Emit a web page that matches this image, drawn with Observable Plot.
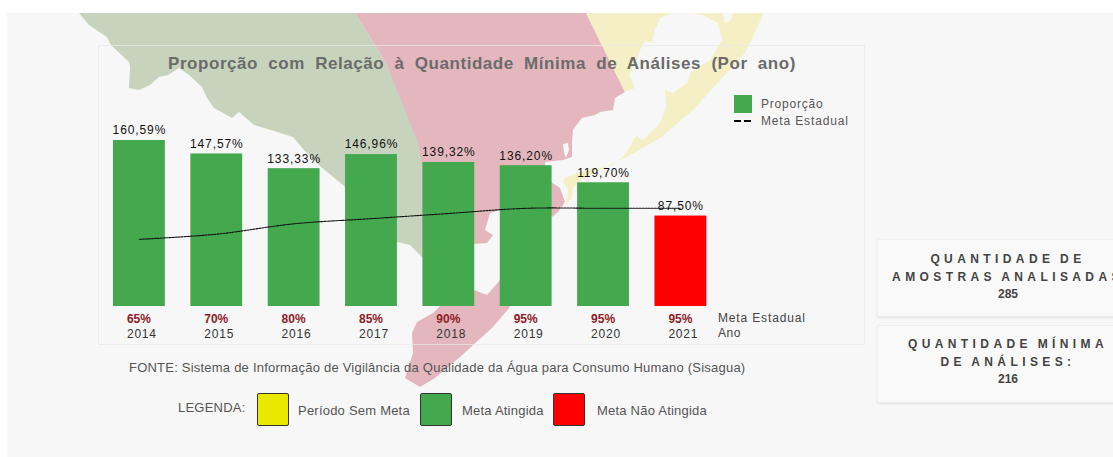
<!DOCTYPE html>
<html lang="pt">
<head>
<meta charset="utf-8">
<script src="https://cdn.jsdelivr.net/npm/d3@7"></script>
<script src="https://cdn.jsdelivr.net/npm/@observablehq/plot@0.6"></script>
<style>
html,body{margin:0;padding:0;background:#fff;width:1113px;height:457px;overflow:hidden;font-family:"Liberation Sans",Arial,sans-serif}
#stage{position:absolute;left:7px;top:13px;width:1106px;height:444px;background:#f7f7f7}
#map,#chart svg{position:absolute;left:0;top:0}
.abs{position:absolute;white-space:nowrap}
#panel{position:absolute;left:98px;top:45px;width:765px;height:298px;border:1px solid rgba(232,232,232,.75);box-sizing:content-box}
.swatch{position:absolute;width:30px;height:31px;border:1.5px solid #333;border-radius:2px}
.leg{font-size:13px;color:#555;letter-spacing:.22px}
.card{position:absolute;left:877px;width:260px;background:#f9f9f9;border:1px solid #eee;border-radius:2px;box-shadow:0 1px 2px rgba(0,0,0,.08)}
.cardtext{position:absolute;left:877px;width:262px;text-align:center;font-weight:bold;font-size:12px;color:#444;letter-spacing:4.4px;word-spacing:-2px;white-space:nowrap;line-height:14px}
.cardnum{letter-spacing:0;word-spacing:0}
.vals text{letter-spacing:.9px}
.yearsrow text{letter-spacing:.8px}
</style>
</head>
<body>
<div id="stage"></div>
<svg id="map" width="1113" height="457"></svg>
<div id="panel"></div>
<div id="chart"></div>
<div class="abs" id="title" style="left:98px;width:768px;top:54px;text-align:center;font-size:17px;font-weight:bold;color:#6b6b6b;letter-spacing:.55px;word-spacing:5px">Proporção com Relação à Quantidade Mínima de Análises (Por ano)</div>
<div class="abs" style="left:734px;top:95px;width:18px;height:18px;background:#43a84e"></div>
<div class="abs" style="left:761px;top:97px;font-size:12px;color:#555;letter-spacing:.8px">Proporção</div>
<div class="abs" style="left:734px;top:120px;width:7px;height:2px;background:#000"></div>
<div class="abs" style="left:744px;top:120px;width:7px;height:2px;background:#000"></div>
<div class="abs" style="left:761px;top:114px;font-size:12px;color:#555;letter-spacing:.85px">Meta Estadual</div>
<div class="abs" style="left:718px;top:311px;font-size:12px;color:#444;letter-spacing:.85px">Meta Estadual</div>
<div class="abs" style="left:718px;top:326px;font-size:12px;color:#444;letter-spacing:.5px">Ano</div>
<div class="abs leg" style="left:129px;top:360px">FONTE: Sistema de Informação de Vigilância da Qualidade da Água para Consumo Humano (Sisagua)</div>
<div class="abs leg" style="left:178px;top:400px">LEGENDA:</div>
<div class="swatch" style="left:257px;top:393px;background:#e9e900"></div>
<div class="abs leg" style="left:298px;top:403px">Período Sem Meta</div>
<div class="swatch" style="left:420px;top:393px;background:#43a84e"></div>
<div class="abs leg" style="left:462px;top:403px">Meta Atingida</div>
<div class="swatch" style="left:553px;top:393px;background:#ff0000"></div>
<div class="abs leg" style="left:597px;top:403px">Meta Não Atingida</div>
<div class="card" style="top:239px;height:76px"></div>
<div class="card" style="top:325px;height:76px"></div>
<div class="cardtext" style="top:252px">QUANTIDADE DE</div>
<div class="cardtext" style="top:270px">AMOSTRAS ANALISADAS</div>
<div class="cardtext cardnum" style="top:287px">285</div>
<div class="cardtext" style="top:337px">QUANTIDADE MÍNIMA</div>
<div class="cardtext" style="top:355px">DE ANÁLISES:</div>
<div class="cardtext cardnum" style="top:372px">216</div>
<script>
const years = ["2014","2015","2016","2017","2018","2019","2020","2021"];
const proportion = [160.59,147.57,133.33,146.96,139.32,136.20,119.70,87.50];
const goal = [65,70,80,85,90,95,95,95];
const GREEN = "#43a84e", RED = "#ff0000";
const brl = v => v.toFixed(2).replace(".", ",") + "%";
const rows = years.map((year,i)=>({year,value:proportion[i],goal:goal[i]}));

// decorative backdrop: outline of the state's regions
const landGreen = [[79,13],[89,25],[107,37],[111,45],[129,62],[130,67],[129,88],[139,90],[150,85],[159,77],[168,75],[179,68],[189,75],[202,87],[207,98],[214,108],[232,118],[239,112],[254,125],[271,130],[293,137],[304,150],[321,167],[343,185],[397,242],[410,245],[422,257],[450,260],[450,210],[422,147],[386,63],[355,13]];
const landRed = [[355,13],[586,13],[625,92],[615,98],[613,110],[600,112],[595,115],[582,118],[575,127],[573,130],[572,142],[572,157],[563,160],[545,162],[545,182],[551,182],[560,188],[565,202],[558,212],[552,217],[545,210],[500,210],[490,213],[485,230],[493,235],[487,243],[474,244],[465,262],[474,290],[487,295],[500,280],[510,307],[493,327],[460,357],[435,378],[420,387],[405,378],[413,353],[412,333],[417,322],[433,313],[443,303],[430,200],[418,143],[386,63]];
const landYellowW = [[586,13],[672,13],[660,18],[655,30],[652,42],[645,41],[640,50],[637,60],[629,75],[635,88],[625,92]];
const landYellowE = [[692,13],[764,13],[745,53],[720,80],[693,110],[660,138],[627,157],[593,173],[578,182],[573,188],[572,197],[566,205],[568,190],[563,182],[565,178],[577,173],[613,165],[623,157],[630,147],[636,136],[643,140],[660,123],[666,107],[665,90],[673,93],[688,82],[690,73],[710,60],[722,40],[718,23],[703,15]];
const islets = [[[723,13],[733,13],[731,20],[725,23]],[[563,144],[568,143],[569,150],[566,158],[564,153]]];
const map = d3.select("#map");
const path = d3.line();
[[landGreen,"#c7d3bc"],[landRed,"#e3b7bd"],[landYellowW,"#f4efc4"],[landYellowE,"#f4efc4"]].forEach(([p,c])=>
  map.append("path").attr("d",path(p)+"Z").attr("fill",c));
islets.forEach(p=>map.append("path").attr("d",path(p)+"Z").attr("fill","#f7f7f7"));

const plot = Plot.plot({
  width:1113,height:457,marginTop:0,marginRight:0,marginBottom:151,marginLeft:0,
  style:{background:"transparent",fontFamily:"Liberation Sans",fontSize:"12px"},
  x:{type:"band",domain:years,range:[113,706.3],paddingInner:.33,paddingOuter:0,round:false,label:null},
  y:{domain:[0,160.59],range:[306,140],axis:null,label:null},
  marks:[
    Plot.barY(rows,{x:"year",y:"value",fill:d=>d.value>=100?GREEN:RED}),
    Plot.line(rows,{x:"year",y:"goal",curve:"catmull-rom",stroke:"#111",strokeWidth:1.1,strokeDasharray:"2,1"}),
    Plot.text(rows,{x:"year",y:"value",text:d=>brl(d.value),dy:-10,fill:"#111",fontSize:12,className:"vals"}),
    Plot.axisX({anchor:"bottom",tickSize:0,tickPadding:8,tickFormat:y=>goal[years.indexOf(y)]+"%",textAnchor:"start",dx:-12.5,fill:"#8f2027",fontWeight:"bold",fontSize:12,label:null}),
    Plot.axisX({anchor:"bottom",tickSize:0,tickPadding:23,tickFormat:y=>y,textAnchor:"start",dx:-12.5,fill:"#333",fontSize:12,className:"yearsrow",label:null})
  ]
});
document.getElementById("chart").appendChild(plot);
</script>
</body>
</html>
